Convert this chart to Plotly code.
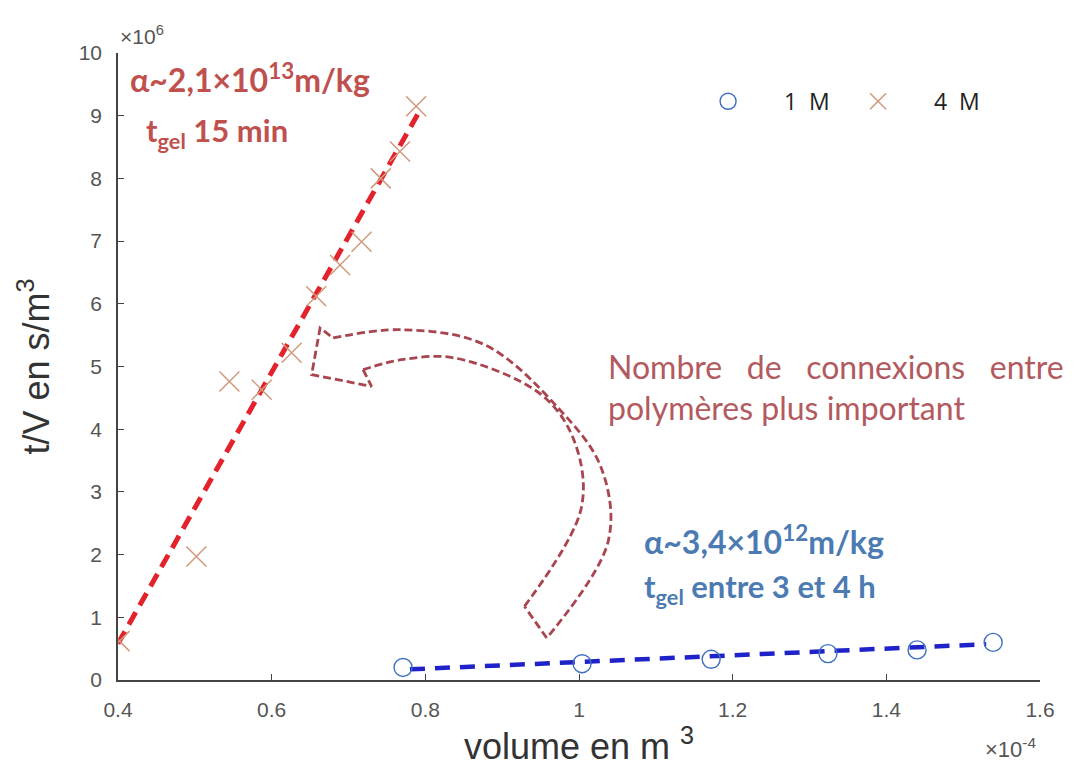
import plotly.graph_objects as go

# data (x in 1e-4 m3, y in 1e6 s/m3)
vol_1M = [0.771, 1.004, 1.172, 1.324, 1.440, 1.539]
tv_1M = [0.20, 0.26, 0.33, 0.42, 0.48, 0.60]
vol_4M = [0.402, 0.502, 0.545, 0.587, 0.626, 0.658, 0.689, 0.717, 0.742, 0.767, 0.788]
tv_4M = [0.62, 1.97, 4.76, 4.63, 5.22, 6.12, 6.62, 6.99, 8.00, 8.43, 9.15]

# linear fits as drawn
fit_1M_x = [0.78, 1.53]
fit_1M_y = [0.17, 0.57]
fit_4M_x = [0.40, 0.79]
fit_4M_y = [0.58, 9.02]

# curved dashed arrow outline
arrow_outer_x = [0.680, 0.769, 0.877, 0.973, 1.029, 1.038, 0.958]
arrow_outer_y = [5.455, 5.587, 5.348, 4.338, 3.381, 2.212, 0.67]
arrow_inner_x = [0.929, 1.003, 0.994, 0.951, 0.838, 0.769, 0.719]
arrow_inner_y = [1.175, 2.743, 3.807, 4.55, 5.136, 5.108, 4.949]
arrow_head_x = [0.719, 0.730, 0.652, 0.663, 0.680]
arrow_head_y = [4.949, 4.684, 4.869, 5.614, 5.455]
arrow_tail_x = [0.958, 0.929]
arrow_tail_y = [0.67, 1.175]

x_ticks = [0.4, 0.6, 0.8, 1.0, 1.2, 1.4, 1.6]
x_labels = ["0.4", "0.6", "0.8", "1", "1.2", "1.4", "1.6"]
y_ticks = list(range(0, 11))

arrow_col = "#a8454f"
nb = "\u00a0"

fig = go.Figure()

# fit lines
fig.add_trace(go.Scatter(x=fit_4M_x, y=fit_4M_y, mode="lines", showlegend=False,
                         line=dict(color="#e3222b", width=5, dash="14px,8px")))
fig.add_trace(go.Scatter(x=fit_1M_x, y=fit_1M_y, mode="lines", showlegend=False,
                         line=dict(color="#1f22c8", width=4.5, dash="15px,10px")))

# arrow
for ax_, ay_, shp in [(arrow_outer_x, arrow_outer_y, "spline"),
                      (arrow_inner_x, arrow_inner_y, "spline"),
                      (arrow_head_x, arrow_head_y, "linear"),
                      (arrow_tail_x, arrow_tail_y, "linear")]:
    fig.add_trace(go.Scatter(x=ax_, y=ay_, mode="lines", showlegend=False, hoverinfo="skip",
                             line=dict(color=arrow_col, width=2.8, dash="8px,4px", shape=shp)))

# markers
fig.add_trace(go.Scatter(x=vol_1M, y=tv_1M, mode="markers", name=nb * 6 + "1" + nb * 2 + "M",
                         marker=dict(symbol="circle-open", size=18, color="#3f6fbf",
                                     line=dict(width=1.4))))
fig.add_trace(go.Scatter(x=vol_4M, y=tv_4M, mode="markers", name=nb * 6 + "4" + nb * 2 + "M",
                         marker=dict(symbol="x-thin-open", size=20, color="#cf9a7c",
                                     line=dict(width=1.5))))

red_txt = "#c0504d"
blue_txt = "#4b7bb2"
gap = nb * 2 + " "
ann = [
    dict(x=120, y=70, text="α~2,1×10<sup>13</sup>m/kg", color=red_txt, bold=True, size=32),
    dict(x=136, y=124, text="t<sub>gel</sub> 15 min", color=red_txt, bold=True, size=31),
    dict(x=634, y=532, text="α~3,4×10<sup>12</sup>m/kg", color=blue_txt, bold=True, size=32),
    dict(x=634, y=580, text="t<sub>gel</sub> entre 3 et 4 h", color=blue_txt, bold=True, size=31),
    dict(x=598, y=358, text="Nombre" + gap + "de" + gap + "connexions" + gap + "entre",
         color="#b25a60", bold=False, size=32),
    dict(x=598, y=399, text="polymères plus important", color="#b25a60", bold=False, size=32),
]
annotations = []
for a in ann:
    txt = "<b>" + a["text"] + "</b>" if a["bold"] else a["text"]
    annotations.append(dict(
        x=(a["x"] - 110) / 922, y=(672 - a["y"]) / 627, xref="paper", yref="paper",
        xanchor="left", yanchor="middle", showarrow=False, text=txt,
        font=dict(family="Lato, Open Sans, sans-serif", size=a["size"], color=a["color"])))

annotations.append(dict(x=0.0, y=1.005, xref="paper", yref="paper", xanchor="left", yanchor="bottom",
                        showarrow=False, text="×10<sup>6</sup>",
                        font=dict(family="Liberation Sans, Arial", size=21, color="#555")))
annotations.append(dict(x=0.998, y=(672 - 740) / 627, xref="paper", yref="paper", xanchor="right",
                        yanchor="middle", showarrow=False, text="×10<sup>-4</sup>",
                        font=dict(family="Liberation Sans, Arial", size=22, color="#555")))

fig.update_layout(
    width=1084, height=765,
    margin=dict(l=110, r=52, t=45, b=93),
    plot_bgcolor="white", paper_bgcolor="white",
    font=dict(family="Liberation Sans, Arial", color="#444"),
    showlegend=True,
    legend=dict(orientation="h", x=0.64, y=0.923, xanchor="left", yanchor="middle",
                font=dict(family="Open Sans, sans-serif", size=23, color="#222"),
                bgcolor="rgba(0,0,0,0)", entrywidth=105),
    annotations=annotations,
    xaxis=dict(range=[0.4, 1.6], tickvals=x_ticks, ticktext=x_labels, automargin=False,
               showgrid=False, zeroline=False, showline=True, linecolor="#444", linewidth=1.5,
               ticks="inside", ticklen=6, tickcolor="#444", ticklabelstandoff=10,
               tickfont=dict(size=21, color="#555"),
               title=dict(text="volume en m <sup>3</sup>", font=dict(size=36, color="#333"), standoff=6)),
    yaxis=dict(range=[0, 10], tickvals=y_ticks, automargin=False,
               showgrid=False, zeroline=False, showline=True, linecolor="#444", linewidth=1.5,
               ticks="inside", ticklen=6, tickcolor="#444", ticklabelstandoff=10,
               tickfont=dict(size=21, color="#555"),
               title=dict(text="t/V en s/m<sup>3</sup>", font=dict(size=36, color="#333"), standoff=18)),
)

fig.write_html("out.html")
